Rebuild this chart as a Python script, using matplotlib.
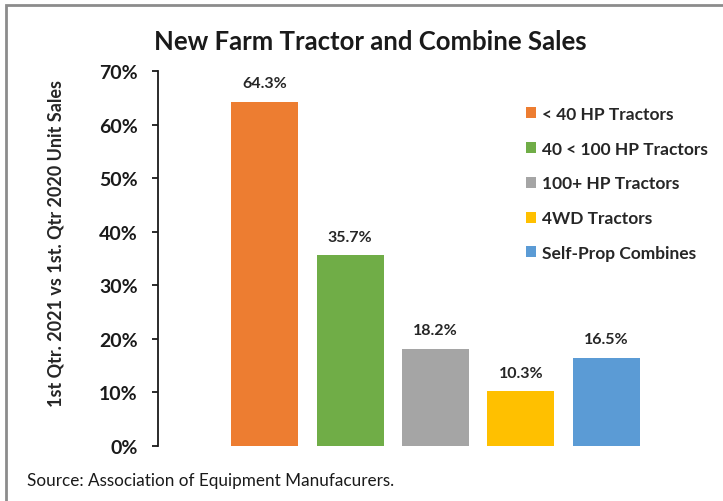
import matplotlib
matplotlib.use("Agg")
import matplotlib.pyplot as plt
from matplotlib.patches import Rectangle
from matplotlib.ticker import FuncFormatter

plt.rcParams['font.family'] = ['Lato', 'DejaVu Sans']

categories = ["< 40 HP Tractors", "40 < 100 HP Tractors", "100+ HP Tractors",
              "4WD Tractors", "Self-Prop Combines"]
values = [64.3, 35.7, 18.2, 10.3, 16.5]
colors = ["#ED7D31", "#70AD47", "#A5A5A5", "#FFC000", "#5B9BD5"]
y_ticks = [0, 10, 20, 30, 40, 50, 60, 70]

fig = plt.figure(figsize=(7.23, 5.02), dpi=100)
W, H = 723, 502

# plot area in pixel coordinates
left, right, top, bottom = 158, 713, 72, 447
ax = fig.add_axes([left / W, 1 - bottom / H, (right - left) / W, (bottom - top) / H])

x = list(range(len(values)))
bars = ax.bar(x, values, width=0.785, color=colors, label=categories, zorder=2)

for xi, v in zip(x, values):
    ax.text(xi, v + 3.4, f"{v:.1f}%", ha='center', va='center',
            fontsize=11.5, fontweight='bold', color='#262626')

ax.set_xlim(-1.25, 5.25)
ax.set_ylim(0, 70)
ax.set_yticks(y_ticks)
ax.yaxis.set_major_formatter(FuncFormatter(lambda v, p: f"{v:.0f}%"))
ax.tick_params(axis='y', labelsize=14, length=4.5, width=1.3, pad=10, colors='#1a1a1a')
for lab in ax.get_yticklabels():
    lab.set_fontweight('bold')
ax.set_xticks([])
for s in ['top', 'right', 'bottom']:
    ax.spines[s].set_visible(False)
ax.spines['left'].set_linewidth(1.3)
ax.spines['left'].set_color('#1a1a1a')

ax.set_ylabel("1st Qtr. 2021 vs 1st. Qtr 2020 Unit Sales", fontsize=13,
              fontweight='bold', color='#262626')
ax.yaxis.set_label_coords((56 - left) / (right - left), (bottom - 244) / (bottom - top))
ax.yaxis.label.set_va('center')

leg = ax.legend(loc='upper left',
                bbox_to_anchor=((519 - left) / (right - left), (bottom - 100) / (bottom - top)),
                frameon=False, fontsize=12.5, handlelength=0.6, handleheight=0.6,
                handletextpad=0.35, labelspacing=1.08, borderaxespad=0)
for t in leg.get_texts():
    t.set_fontweight('bold')
    t.set_color('#262626')

fig.text(370 / W, 1 - 42 / H, "New Farm Tractor and Combine Sales", ha='center', va='center',
         fontsize=18.5, fontweight='bold', color='#1a1a1a')
fig.text(27 / W, 1 - 481 / H, "Source: Association of Equipment Manufacurers.", ha='left',
         va='center', fontsize=12.3, color='#1a1a1a')

# outer frame, running off the right and bottom edges
fig.patches.append(Rectangle((6 / W, -0.1), 1.2, 1 - 6 / H + 0.1, transform=fig.transFigure,
                             fill=False, edgecolor='#8c8c8c', linewidth=2))

fig.savefig("out.png", dpi=100)
